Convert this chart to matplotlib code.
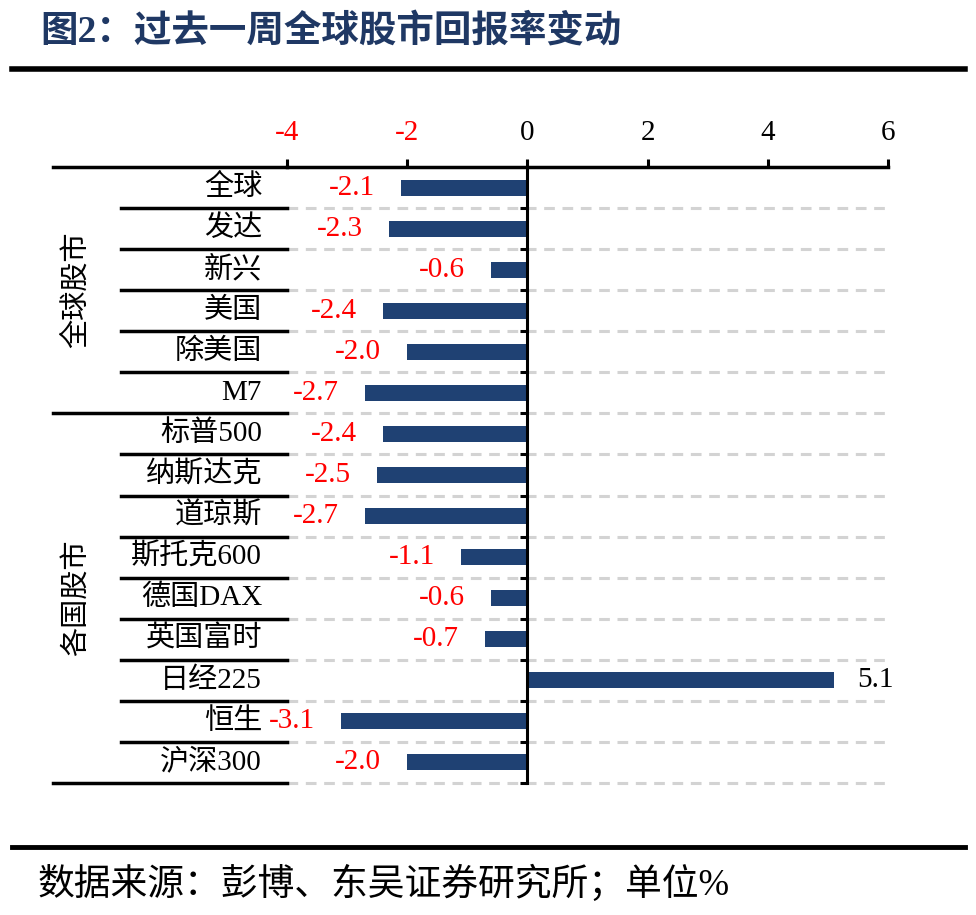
import matplotlib
matplotlib.use("Agg")
import matplotlib.pyplot as plt
import numpy as np

plt.rcParams['font.family'] = ['Liberation Serif', 'Noto Sans CJK SC']

# data
categories = ["全球", "发达", "新兴", "美国", "除美国", "M7",
              "标普500", "纳斯达克", "道琼斯", "斯托克600", "德国DAX",
              "英国富时", "日经225", "恒生", "沪深300"]
values = [-2.1, -2.3, -0.6, -2.4, -2.0, -2.7,
          -2.4, -2.5, -2.7, -1.1, -0.6, -0.7, 5.1, -3.1, -2.0]
groups = ["全球股市", "各国股市"]
group_sizes = [6, 9]
x_ticks = [-4, -2, 0, 2, 4, 6]

BAR_COLOR = "#1F4173"
TITLE_COLOR = "#1F3864"
NEG_COLOR = "#FF0000"

fig = plt.figure(figsize=(9.76, 9.15), dpi=100)

""" Title and frame lines """
fig.text(40 / 976, 1 - 33 / 915, "图2：过去一周全球股市回报率变动", fontsize=27,
         fontweight="bold", color=TITLE_COLOR, va="center", ha="left")
fig.add_artist(plt.Line2D([12 / 976, 965 / 976], [1 - 69 / 915, 1 - 69 / 915],
                          color="black", lw=4))
fig.add_artist(plt.Line2D([12 / 976, 965 / 976], [1 - 847 / 915, 1 - 847 / 915],
                          color="black", lw=3.5))
fig.text(38 / 976, 1 - 884 / 915, "数据来源：彭博、东吴证券研究所；单位%", fontsize=26.5,
         color="black", va="center", ha="left")

""" Main axes """
left, right, top, bottom = 287, 888, 167, 783
ax = fig.add_axes([left / 976, 1 - bottom / 915, (right - left) / 976, (bottom - top) / 915])
n = len(categories)
ypos = np.arange(n) + 0.5
ax.barh(ypos, values, height=0.39, color=BAR_COLOR, zorder=3)
ax.set_xlim(-4, 6)
ax.set_ylim(n, 0)

# dashed gridlines at row boundaries
for b in range(1, n + 1):
    ax.axhline(b, color="#D3D3D3", lw=2.2, ls=(0, (3.5, 2.5)), zorder=1, clip_on=False)

# top axis
ax.xaxis.tick_top()
ax.set_xticks(x_ticks)
ax.set_xticklabels([str(t) for t in x_ticks], fontsize=21)
for lbl, t in zip(ax.get_xticklabels(), x_ticks):
    lbl.set_color(NEG_COLOR if t < 0 else "black")
ax.tick_params(axis="x", direction="out", length=6, width=2.2, pad=9, top=True, bottom=False)

# vertical zero line with small ticks
for s in ["right", "bottom"]:
    ax.spines[s].set_visible(False)
ax.spines["top"].set_linewidth(2.5)
ax.spines["left"].set_position(("data", 0))
ax.spines["left"].set_linewidth(2.2)
ax.spines["left"].set_zorder(4)
ax.set_yticks(range(1, n + 1))
ax.set_yticklabels([])
ax.tick_params(axis="y", direction="out", length=5, width=2.2)

# value labels
for y, v in zip(ypos, values):
    if v < 0:
        ax.annotate(f"{v:.1f}", xy=(v, y), xytext=(-19, 0), textcoords="offset points",
                    ha="right", va="center", fontsize=21, color=NEG_COLOR)
    else:
        ax.annotate(f"{v:.1f}", xy=(v, y), xytext=(17, 0), textcoords="offset points",
                    ha="left", va="center", fontsize=21, color="black")

""" Left category table """
tr = ax.get_yaxis_transform()
px = right - left
x_cat = (262 - left) / px
x_inner = (121 - left) / px
x_outer = (53 - left) / px
for y, c in zip(ypos, categories):
    ax.text(x_cat, y, c, transform=tr, ha="right", va="center", fontsize=21)

ax.plot([x_outer, 0], [0, 0], transform=tr, color="black", lw=2.5, clip_on=False)
start = 0
for g, size in zip(groups, group_sizes):
    end = start + size
    for b in range(start + 1, end):
        ax.plot([x_inner, 0], [b, b], transform=tr, color="black", lw=2.5, clip_on=False)
    ax.plot([x_outer, 0], [end, end], transform=tr, color="black", lw=2.5, clip_on=False)
    ax.text((76 - left) / px, (start + end) / 2, g, transform=tr, rotation=90,
            ha="center", va="center", fontsize=21)
    start = end

fig.savefig("out.png", dpi=100)
